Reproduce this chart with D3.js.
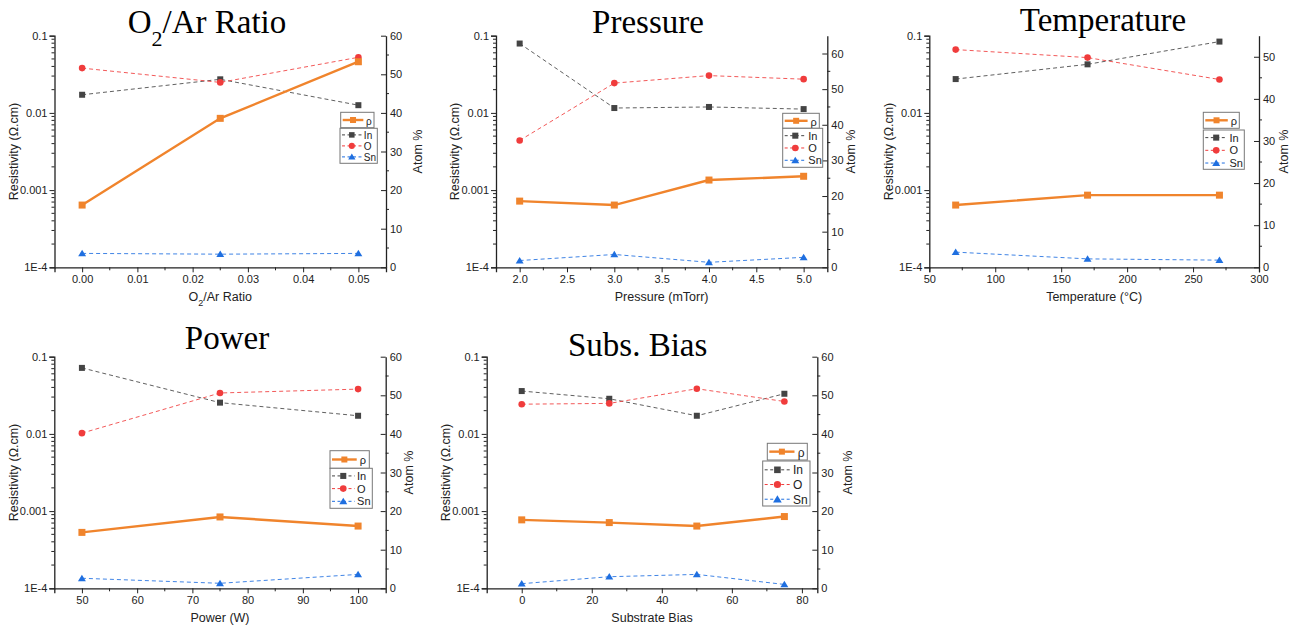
<!DOCTYPE html>
<html>
<head>
<meta charset="utf-8">
<script src="https://cdn.jsdelivr.net/npm/d3@7"></script>
<style>
  body { margin: 0; background: #fff; }
  text { font-family: "Liberation Sans", Arial, sans-serif; fill: #222; }
  .title { font-family: "Liberation Serif", "Times New Roman", serif; fill: #000; }
</style>
</head>
<body>
<svg id="chart" width="1306" height="630"></svg>
<script>
// ### DATA

// O2/Ar ratio series
var o2Ratio = [0, 0.025, 0.05];
var o2Rho = [6.4e-4, 8.5e-3, 0.046];
var o2In = [44.7, 48.7, 42.0];
var o2O = [51.6, 47.9, 54.4];
var o2Sn = [3.6, 3.4, 3.6];

// Pressure series (mTorr)
var pressure = [2.0, 3.0, 4.0, 5.0];
var pressRho = [7.2e-4, 6.4e-4, 1.35e-3, 1.51e-3];
var pressIn = [62.8, 44.7, 45.0, 44.4];
var pressO = [35.6, 51.7, 53.8, 52.8];
var pressSn = [1.9, 3.6, 1.4, 2.8];

// Temperature series (C)
var temperature = [70, 170, 270];
var tempRho = [6.4e-4, 8.6e-4, 8.6e-4];
var tempIn = [44.7, 48.2, 53.6];
var tempO = [51.7, 49.8, 44.6];
var tempSn = [3.6, 2.0, 1.7];

// Power series (W)
var power = [50, 75, 100];
var powRho = [5.3e-4, 8.4e-4, 6.4e-4];
var powIn = [57.1, 48.1, 44.7];
var powO = [40.2, 50.6, 51.6];
var powSn = [2.6, 1.3, 3.6];

// Substrate bias series
var bias = [0, 25, 50, 75];
var biasRho = [7.7e-4, 7.1e-4, 6.4e-4, 8.5e-4];
var biasIn = [51.1, 49.1, 44.7, 50.4];
var biasO = [47.7, 47.9, 51.7, 48.4];
var biasSn = [1.2, 3.0, 3.6, 1.0];

// axis tick values
var logTicks = [1e-4, 1e-3, 1e-2, 1e-1];
var logTickLabels = ["1E-4", "0.001", "0.01", "0.1"];
var o2Ticks = [0, 0.01, 0.02, 0.03, 0.04, 0.05];
var pressTicks = [2.0, 2.5, 3.0, 3.5, 4.0, 4.5, 5.0];
var tempTicks = [50, 100, 150, 200, 250, 300];
var powTicks = [50, 60, 70, 80, 90, 100];
var biasTicks = [0, 20, 40, 60, 80];
var atomTicks = [0, 10, 20, 30, 40, 50, 60];

var colors = { rho: "#f0842c", In: "#444444", O: "#f03c3c", Sn: "#1f6fe0" };

// ### PANEL LAYOUT

var panels = [
  {
    title: ["O", "2", "/Ar Ratio"], xLabel: ["O", "2", "/Ar Ratio"],
    x: o2Ratio, rho: o2Rho, In: o2In, O: o2O, Sn: o2Sn,
    box: {l: 54.5, r: 386, t: 35.7, b: 267.3},
    xDomain: [-0.005, 0.055], xTicks: o2Ticks, xMinorStep: 0.005, xFmt: d3.format(".2f"),
    rDomain: [0, 60], titleX: 207, titleY: 33, yTitleOff: 41, rTitleOff: 32,
    legend: {x1: 340.7, y1: 112.3, w1: 33.3, h1: 15.4, x2: 340, y2: 128.3, w2: 37.3, h2: 35, gap: 11, fs: 10}
  },
  {
    title: ["Pressure"], xLabel: ["Pressure (mTorr)"],
    x: pressure, rho: pressRho, In: pressIn, O: pressO, Sn: pressSn,
    box: {l: 496, r: 827.3, t: 35.7, b: 267.3},
    xDomain: [1.75, 5.25], xTicks: pressTicks, xMinorStep: 0.25, xFmt: d3.format(".1f"),
    rDomain: [0, 65], titleX: 648, titleY: 32.5, yTitleOff: 41, rTitleOff: 23,
    legend: {x1: 782.7, y1: 113.3, w1: 36.6, h1: 15, x2: 782.7, y2: 128.3, w2: 40, h2: 39, gap: 12.3, fs: 11}
  },
  {
    title: ["Temperature"], xLabel: ["Temperature (°C)"],
    x: temperature, rho: tempRho, In: tempIn, O: tempO, Sn: tempSn,
    box: {l: 929.3, r: 1259, t: 35.7, b: 267.3},
    xDomain: [50, 300], xTicks: tempTicks, xMinorStep: 25, xFmt: d3.format("d"),
    rDomain: [0, 55], titleX: 1103, titleY: 31, yTitleOff: 41, rTitleOff: 25,
    legend: {x1: 1203.3, y1: 112.3, w1: 36, h1: 16, x2: 1203.3, y2: 130, w2: 41, h2: 39.3, gap: 12.7, fs: 11}
  },
  {
    title: ["Power"], xLabel: ["Power (W)"],
    x: power, rho: powRho, In: powIn, O: powO, Sn: powSn,
    box: {l: 54.3, r: 385.7, t: 356.7, b: 588.3},
    xDomain: [45, 105], xTicks: powTicks, xMinorStep: 5, xFmt: d3.format("d"),
    rDomain: [0, 60], titleX: 227, titleY: 349, yTitleOff: 41, rTitleOff: 23,
    legend: {x1: 330, y1: 450.7, w1: 39.3, h1: 17.6, x2: 330, y2: 468.3, w2: 42.3, h2: 40, gap: 12.7, fs: 11}
  },
  {
    title: ["Subs. Bias"], xLabel: ["Substrate Bias"],
    x: bias, rho: biasRho, In: biasIn, O: biasO, Sn: biasSn,
    box: {l: 486.7, r: 817.3, t: 356.7, b: 588.3},
    xDomain: [-10, 84.4], xTicks: biasTicks, xMinorStep: 10, xFmt: d3.format("d"),
    rDomain: [0, 60], titleX: 637.7, titleY: 355.5, yTitleOff: 41, rTitleOff: 30,
    legend: {x1: 767.3, y1: 443.3, w1: 40, h1: 16.7, x2: 762.7, y2: 461, w2: 47.3, h2: 45, gap: 14.7, fs: 12}
  }
];

var svg = d3.select("#chart");

// write ["O","2","/Ar"] as O + subscript 2 + rest
function richText(sel, parts, subSize) {
  sel.append("tspan").text(parts[0]);
  if (parts.length > 1) {
    sel.append("tspan").attr("baseline-shift", "sub").attr("font-size", subSize).text(parts[1]);
    sel.append("tspan").text(parts[2]);
  }
}

function marker(g, type, x, y, color, size) {
  if (type === "square") {
    g.append("rect").attr("x", x - size / 2).attr("y", y - size / 2)
      .attr("width", size).attr("height", size).attr("fill", color);
  } else if (type === "circle") {
    g.append("circle").attr("cx", x).attr("cy", y).attr("r", size / 2 + 0.3).attr("fill", color);
  } else {
    var s = size * 0.6;
    g.append("path").attr("d", "M" + x + "," + (y - s) + "L" + (x + s * 1.1) + "," + (y + s * 0.8) +
      "L" + (x - s * 1.1) + "," + (y + s * 0.8) + "Z").attr("fill", color);
  }
}

panels.forEach(function(p) {
  var g = svg.append("g");
  var b = p.box;

  var x = d3.scaleLinear().domain(p.xDomain).range([b.l, b.r]);
  var yL = d3.scaleLog().domain([1e-4, 0.1]).range([b.b, b.t]);
  var yR = d3.scaleLinear().domain(p.rDomain).range([b.b, b.t]);

  // title
  var title = g.append("text").attr("class", "title")
    .attr("x", p.titleX).attr("y", p.titleY)
    .attr("text-anchor", "middle").attr("font-size", 33);
  richText(title, p.title, 22);

  // ### AXES
  var bottomAxis = d3.axisBottom(x).tickValues(p.xTicks).tickFormat(p.xFmt).tickSize(5).tickPadding(3);
  var gx = g.append("g").attr("transform", "translate(0," + b.b + ")").call(bottomAxis);
  var minorX = d3.range(p.xDomain[0], p.xDomain[1] + 1e-9, p.xMinorStep).filter(function(v) {
    return !p.xTicks.some(function(t) { return Math.abs(t - v) < 1e-9; }) &&
      v > p.xDomain[0] + 1e-9 && v < p.xDomain[1] - 1e-9;
  });
  gx.selectAll("line.minor").data(minorX).enter().append("line").attr("class", "minor")
    .attr("x1", function(d) { return x(d); }).attr("x2", function(d) { return x(d); })
    .attr("y1", 0).attr("y2", 3).attr("stroke", "#222");

  var leftAxis = d3.axisLeft(yL).tickValues(logTicks)
    .tickFormat(function(d, i) { return logTickLabels[i]; }).tickSize(5).tickPadding(2);
  var gl = g.append("g").attr("transform", "translate(" + b.l + ",0)").call(leftAxis);
  var minorY = [];
  [1e-4, 1e-3, 1e-2].forEach(function(dec) {
    for (var k = 2; k <= 9; k++) minorY.push(dec * k);
  });
  gl.selectAll("line.minor").data(minorY).enter().append("line").attr("class", "minor")
    .attr("x1", -3).attr("x2", 0)
    .attr("y1", function(d) { return yL(d); }).attr("y2", function(d) { return yL(d); })
    .attr("stroke", "#222");

  var rTicks = atomTicks.filter(function(v) { return v <= p.rDomain[1]; });
  var rightAxis = d3.axisRight(yR).tickValues(rTicks).tickFormat(d3.format("d"))
    .tickSizeInner(-5).tickSizeOuter(0).tickPadding(4);
  var gr = g.append("g").attr("transform", "translate(" + b.r + ",0)").call(rightAxis);
  var minorR = d3.range(5, p.rDomain[1], 10);
  gr.selectAll("line.minor").data(minorR).enter().append("line").attr("class", "minor")
    .attr("x1", 0).attr("x2", 3)
    .attr("y1", function(d) { return yR(d); }).attr("y2", function(d) { return yR(d); })
    .attr("stroke", "#222");

  [gx, gl, gr].forEach(function(a) {
    a.selectAll("text").attr("font-size", 11).attr("fill", "#222")
      .attr("font-family", "Liberation Sans, Arial, sans-serif");
    a.selectAll("path.domain").attr("stroke", "#222").attr("stroke-width", 1.3);
    a.selectAll("line").attr("stroke", "#222");
  });

  // axis titles
  var xl = g.append("text").attr("x", (b.l + b.r) / 2).attr("y", b.b + 34)
    .attr("text-anchor", "middle").attr("font-size", 12.5);
  richText(xl, p.xLabel, 9);

  g.append("text")
    .attr("transform", "translate(" + (b.l - p.yTitleOff) + "," + ((b.t + b.b) / 2) + ") rotate(-90)")
    .attr("text-anchor", "middle").attr("dy", "0.35em").attr("font-size", 12.5)
    .text("Resistivity (Ω.cm)");
  g.append("text")
    .attr("transform", "translate(" + (b.r + p.rTitleOff) + "," + ((b.t + b.b) / 2) + ") rotate(-90)")
    .attr("text-anchor", "middle").attr("dy", "0.35em").attr("font-size", 12.5)
    .text("Atom %");

  // ### SERIES
  var atomSeries = [
    {key: "In", vals: p.In, shape: "square"},
    {key: "O", vals: p.O, shape: "circle"},
    {key: "Sn", vals: p.Sn, shape: "triangle"}
  ];
  atomSeries.forEach(function(s) {
    var pts = p.x.map(function(v, i) { return [x(v), yR(s.vals[i])]; });
    g.append("path").attr("d", d3.line()(pts)).attr("fill", "none")
      .attr("stroke", colors[s.key]).attr("stroke-width", 1).attr("stroke-dasharray", "4,3")
      .attr("opacity", 0.85);
    pts.forEach(function(pt) { marker(g, s.shape, pt[0], pt[1], colors[s.key], 6); });
  });

  var rhoPts = p.x.map(function(v, i) { return [x(v), yL(p.rho[i])]; });
  g.append("path").attr("d", d3.line()(rhoPts)).attr("fill", "none")
    .attr("stroke", colors.rho).attr("stroke-width", 2.4);
  rhoPts.forEach(function(pt) { marker(g, "square", pt[0], pt[1], colors.rho, 7); });

  // ### LEGENDS
  var L = p.legend;
  g.append("rect").attr("x", L.x1).attr("y", L.y1).attr("width", L.w1).attr("height", L.h1)
    .attr("fill", "#fff").attr("stroke", "#777").attr("stroke-width", 1);
  var ly = L.y1 + L.h1 / 2;
  g.append("line").attr("x1", L.x1 + 2).attr("x2", L.x1 + L.w1 * 0.68).attr("y1", ly).attr("y2", ly)
    .attr("stroke", colors.rho).attr("stroke-width", 2.4);
  marker(g, "square", L.x1 + 2 + (L.w1 * 0.68 - 2) / 2, ly, colors.rho, 6);
  g.append("text").attr("x", L.x1 + L.w1 * 0.76).attr("y", ly).attr("dy", "0.45em")
    .attr("font-size", L.fs).text("ρ");

  g.append("rect").attr("x", L.x2).attr("y", L.y2).attr("width", L.w2).attr("height", L.h2)
    .attr("fill", "#fff").attr("stroke", "#777").attr("stroke-width", 1);
  atomSeries.forEach(function(s, i) {
    var yy = L.y2 + L.gap * 0.6 + i * L.gap;
    g.append("line").attr("x1", L.x2 + 2).attr("x2", L.x2 + L.w2 * 0.58).attr("y1", yy).attr("y2", yy)
      .attr("stroke", colors[s.key]).attr("stroke-width", 1).attr("stroke-dasharray", "3,2.5");
    marker(g, s.shape, L.x2 + 2 + (L.w2 * 0.58 - 2) / 2, yy, colors[s.key], L.fs * 0.55);
    g.append("text").attr("x", L.x2 + L.w2 * 0.64).attr("y", yy).attr("dy", "0.36em")
      .attr("font-size", L.fs).text(s.key);
  });
});
</script>
</body>
</html>
